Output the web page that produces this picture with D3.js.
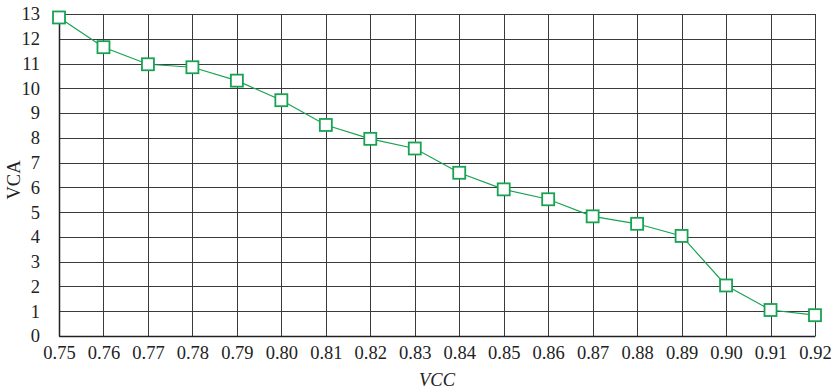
<!DOCTYPE html>
<html>
<head>
<meta charset="utf-8">
<script src="https://cdn.jsdelivr.net/npm/d3@7"></script>
<style>
  html, body { margin: 0; padding: 0; background: #fff; }
  svg text { font-family: "Liberation Serif", "Times New Roman", Times, serif; fill: #222; }
</style>
</head>
<body>
<svg id="chart" width="831" height="391"></svg>
<script>
// VCC sweep and the measured VCA at each step
const vcc = [0.75, 0.76, 0.77, 0.78, 0.79, 0.80, 0.81, 0.82, 0.83, 0.84, 0.85, 0.86, 0.87, 0.88, 0.89, 0.90, 0.91, 0.92];
const vca = [12.86, 11.66, 10.97, 10.85, 10.31, 9.52, 8.52, 7.96, 7.57, 6.59, 5.92, 5.52, 4.83, 4.53, 4.04, 2.04, 1.05, 0.84];
const yTicks = [0, 1, 2, 3, 4, 5, 6, 7, 8, 9, 10, 11, 12, 13];
const xTicks = vcc;

const svg = d3.select("#chart");
const plotLeft = 59, plotRight = 815, plotTop = 14, plotBottom = 336;

const x = d3.scaleLinear().domain([0.75, 0.92]).range([plotLeft, plotRight]);
const y = d3.scaleLinear().domain([0, 13]).range([plotBottom, plotTop]);

const lineColor = "#17a352";
const gridColor = "#3a3a3a";
const fontSize = 18.5;

// grid
const grid = svg.append("g").attr("shape-rendering", "crispEdges");
grid.selectAll("line.h").data(yTicks).enter().append("line")
  .attr("x1", plotLeft).attr("x2", plotRight)
  .attr("y1", d => Math.round(y(d)) + 0.5).attr("y2", d => Math.round(y(d)) + 0.5)
  .attr("stroke", gridColor).attr("stroke-width", 1.3);
grid.selectAll("line.v").data(xTicks).enter().append("line")
  .attr("y1", plotTop).attr("y2", plotBottom)
  .attr("x1", d => Math.round(x(d)) + 0.5).attr("x2", d => Math.round(x(d)) + 0.5)
  .attr("stroke", gridColor).attr("stroke-width", 1.3);

// axes
const xAxis = d3.axisBottom(x).tickValues(xTicks).tickFormat(d3.format(".2f")).tickSize(0).tickPadding(10);
const yAxis = d3.axisLeft(y).tickValues(yTicks).tickFormat(d3.format("d")).tickSize(0).tickPadding(19);

const gx = svg.append("g").attr("transform", `translate(0,${plotBottom})`).call(xAxis);
const gy = svg.append("g").attr("transform", `translate(${plotLeft},0)`).call(yAxis);
[gx, gy].forEach(g => {
  g.attr("font-family", null).attr("font-size", null);
  g.select(".domain").attr("stroke", "#222").attr("stroke-width", 1.5);
  g.selectAll("text").style("font-size", fontSize + "px");
});

// axis titles
svg.append("text").attr("x", 437).attr("y", 386).attr("text-anchor", "middle")
  .style("font-size", fontSize + "px").attr("font-style", "italic").text("VCC");
svg.append("text").attr("transform", "translate(20,180) rotate(-90)")
  .attr("text-anchor", "middle").style("font-size", fontSize + "px").text("VCA");

// series
const pts = vcc.map((v, i) => [v, vca[i]]);
svg.append("path").datum(pts)
  .attr("fill", "none").attr("stroke", lineColor).attr("stroke-width", 1.2)
  .attr("d", d3.line().x(d => x(d[0])).y(d => y(d[1])));

const s = 12;
svg.selectAll("rect.m").data(pts).enter().append("rect")
  .attr("x", d => x(d[0]) - s / 2).attr("y", d => y(d[1]) - s / 2)
  .attr("width", s).attr("height", s)
  .attr("fill", "#fff").attr("stroke", lineColor).attr("stroke-width", 1.8);
</script>
</body>
</html>
